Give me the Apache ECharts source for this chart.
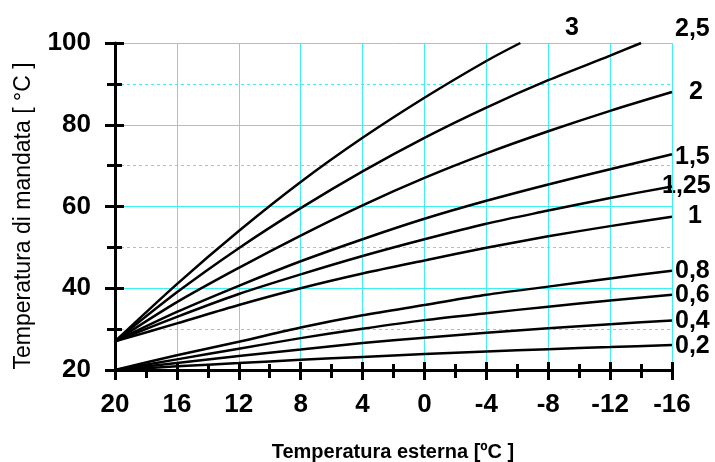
<!DOCTYPE html>
<html>
<meta charset="UTF-8">
<title>curve climatiche</title>
<style type="text/css">
    html,
    body {
        margin: 0px;
        width: 100%;
        height: 100%;
        background: #fff;
    }

    #chart {
        width: 715px;
        height: 462px;
    }
</style>
<script src="https://cdn.jsdelivr.net/npm/echarts@6/dist/echarts.min.js"></script>

<body>
    <div id="chart"></div>
    <script>
        // temperatura esterna (asse x, invertito)
        const extTemps = [20, 16, 12, 8, 4, 0, -4, -8, -12, -16];

        // temperatura di mandata per ogni pendenza
        const k3 = [27, 41.0, 54.0, 66.0, 76.8, 86.6, 95.6];
        const k3End = [-6.2, 100];
        const k25 = [27, 39.0, 49.8, 59.6, 68.6, 76.8, 84.2, 90.9, 96.9];
        const k25End = [-14, 100];
        const k2 = [27, 36.6, 45.0, 52.9, 60.3, 67.0, 73.0, 78.4, 83.4, 88.0];
        const k15 = [27, 34.2, 40.6, 46.6, 52.0, 57.0, 61.4, 65.4, 69.1, 72.8];
        const k125 = [27, 33.0, 38.6, 43.4, 47.9, 52.0, 55.8, 59.0, 62.1, 64.9];
        const k1 = [27, 31.4, 35.9, 40.0, 43.6, 46.8, 49.9, 52.7, 55.2, 57.5];
        const k08 = [20, 23.6, 26.9, 30.4, 33.4, 35.9, 38.4, 40.4, 42.4, 44.3];
        const k06 = [20, 22.6, 25.2, 27.8, 30.1, 32.2, 33.9, 35.5, 37.0, 38.4];
        const k04 = [20, 21.7, 23.4, 25.0, 26.6, 27.9, 29.1, 30.2, 31.2, 32.1];
        const k02 = [20, 20.9, 21.7, 22.5, 23.2, 23.9, 24.5, 25.1, 25.6, 26.1];

        const curveNames = ['3', '2,5', '2', '1,5', '1,25', '1', '0,8', '0,6', '0,4', '0,2'];
        const curveValues = [k3, k25, k2, k15, k125, k1, k08, k06, k04, k02];
        const curveEnds = [k3End, k25End, null, null, null, null, null, null, null, null];

        // posizione delle etichette delle curve [x, y, align]
        const labelPos = [
            [572, 28, 'center'], [675, 29, 'left'], [696, 92, 'center'],
            [675, 157, 'left'], [662, 186, 'left'], [695, 216, 'center'],
            [675, 271, 'left'], [675, 295, 'left'], [675, 321, 'left'], [675, 346, 'left']
        ];

        const cyan = '#3ff0f0';
        const font = 'Liberation Sans';

        function buildData(vals, end) {
            const data = vals.map((v, i) => [extTemps[i], v]);
            if (end) data.push(end);
            return data;
        }

        const chart = echarts.init(document.getElementById('chart'), null, { renderer: 'canvas' });

        const baseX = {
            type: 'value',
            min: -16,
            max: 20,
            interval: 4,
            inverse: true,
            position: 'bottom'
        };
        const baseY = {
            type: 'value',
            min: 20,
            max: 100,
            interval: 20,
            position: 'left'
        };

        const options = {
            animation: false,
            backgroundColor: '#fff',
            grid: { left: 115, right: 43, top: 43, bottom: 92 },
            xAxis: [
                Object.assign({}, baseX, {
                    axisLine: { onZero: false, lineStyle: { color: '#000', width: 3 } },
                    axisTick: { length: 10, lineStyle: { color: '#000', width: 3 } },
                    minorTick: { show: true, splitNumber: 2, length: 8, lineStyle: { color: '#000', width: 3 } },
                    axisLabel: {
                        margin: 22, color: '#000', fontFamily: font,
                        fontWeight: 'bold', fontSize: 26
                    },
                    splitLine: { show: true, lineStyle: { color: cyan, width: 1 } },
                    minorSplitLine: { show: false }
                }),
                Object.assign({}, baseX, {
                    axisLine: { show: false, onZero: false },
                    axisTick: { inside: true, length: 8, lineStyle: { color: '#000', width: 3 } },
                    minorTick: { show: true, splitNumber: 2, length: 6, lineStyle: { color: '#000', width: 3 } },
                    axisLabel: { show: false },
                    splitLine: { show: false },
                    minorSplitLine: { show: false }
                })
            ],
            yAxis: [
                Object.assign({}, baseY, {
                    axisLine: { show: true, onZero: false, lineStyle: { color: '#000', width: 3 } },
                    axisTick: { show: true, length: 10, lineStyle: { color: '#000', width: 3 } },
                    minorTick: { show: true, splitNumber: 2, length: 8, lineStyle: { color: '#000', width: 3 } },
                    axisLabel: {
                        margin: 24, color: '#000', fontFamily: font,
                        fontWeight: 'bold', fontSize: 26
                    },
                    splitLine: { show: true, lineStyle: { color: cyan, width: 1, type: 'solid' } },
                    minorSplitLine: { show: true, lineStyle: { color: cyan, width: 1, type: [3, 3] } }
                }),
                Object.assign({}, baseY, {
                    axisLine: { show: false, onZero: false },
                    axisTick: { show: true, inside: true, length: 9, lineStyle: { color: '#000', width: 3 } },
                    minorTick: { show: true, splitNumber: 2, length: 7, lineStyle: { color: '#000', width: 3 } },
                    axisLabel: { show: false },
                    splitLine: { show: false },
                    minorSplitLine: { show: false }
                })
            ],
            series: curveValues.map((vals, i) => ({
                name: curveNames[i],
                type: 'line',
                xAxisIndex: 0,
                yAxisIndex: 0,
                data: buildData(vals, curveEnds[i]),
                showSymbol: false,
                smooth: 0.3,
                clip: true,
                z: 5,
                lineStyle: { color: '#000', width: 2.5 }
            })),
            graphic: curveNames.map((name, i) => ({
                type: 'text',
                x: labelPos[i][0],
                y: labelPos[i][1],
                style: {
                    text: name,
                    fill: '#000',
                    font: 'bold 25px ' + font,
                    align: labelPos[i][2],
                    verticalAlign: 'middle'
                }
            })).concat([
                {
                    type: 'text',
                    x: 393,
                    y: 452,
                    style: {
                        text: 'Temperatura esterna [ºC ]',
                        fill: '#000',
                        font: 'bold 20px ' + font,
                        align: 'center',
                        verticalAlign: 'middle'
                    }
                },
                {
                    type: 'text',
                    x: 24,
                    y: 216,
                    rotation: Math.PI / 2,
                    style: {
                        text: 'Temperatura di mandata [ °C ]',
                        fill: '#000',
                        font: '23px ' + font,
                        align: 'center',
                        verticalAlign: 'middle'
                    }
                }
            ])
        };
        chart.setOption(options);
    </script>
</body>

</html>
